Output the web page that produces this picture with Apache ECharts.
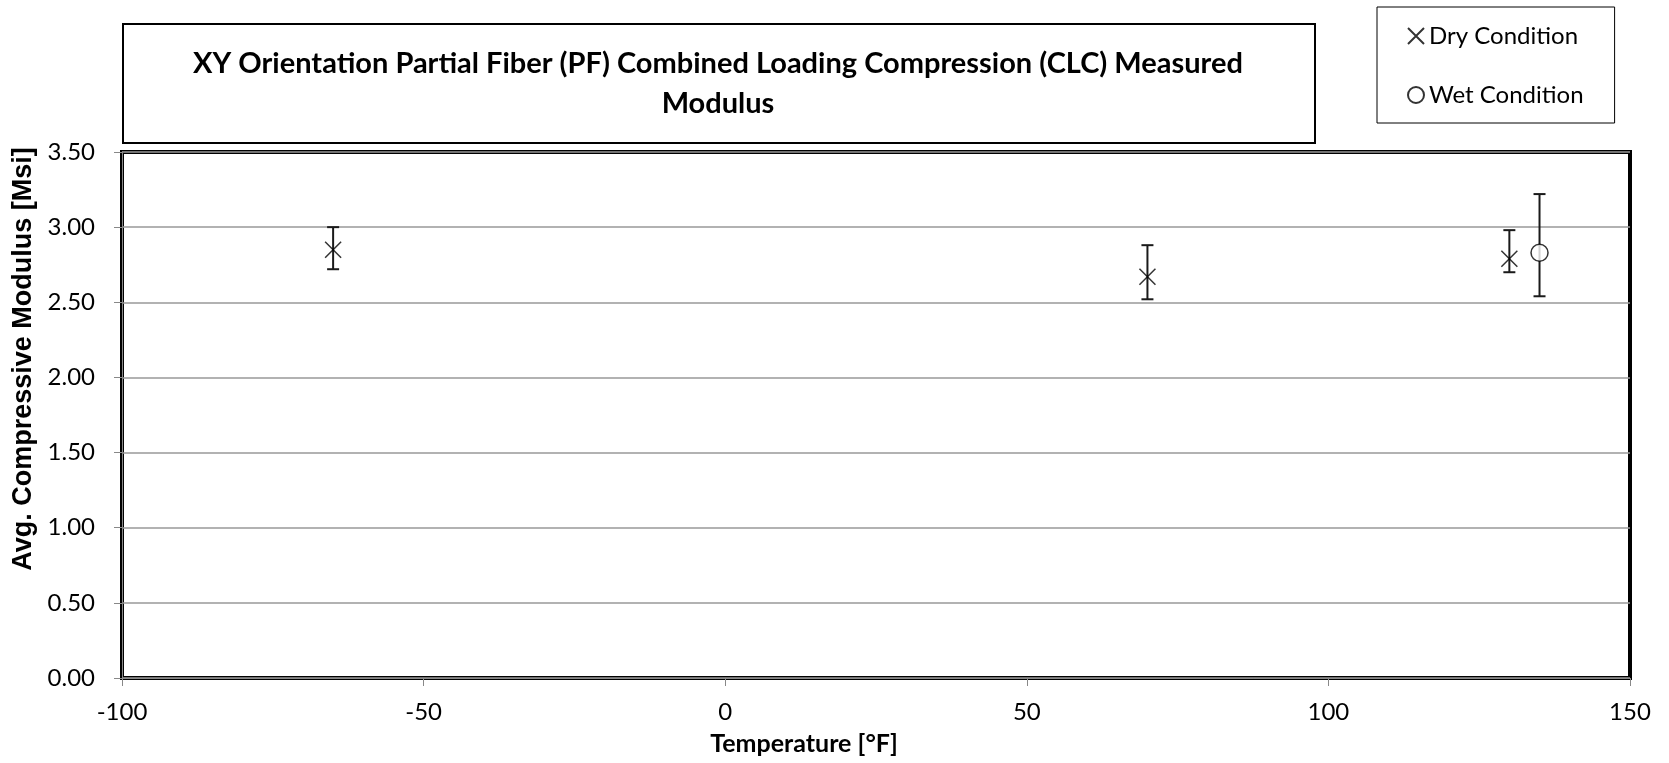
<!DOCTYPE html>
<html>
<head>
<meta charset="utf-8">
<script src="https://cdn.jsdelivr.net/npm/echarts@6/dist/echarts.min.js"></script>
<style>
  html, body { margin: 0; padding: 0; background: #fff; }
  #chart { width: 1669px; height: 763px; }
</style>
</head>
<body>
<div id="chart"></div>
<script>
// Measured compressive modulus, XY orientation, partial fiber CLC specimens
const titleLines = ['XY Orientation Partial Fiber (PF) Combined Loading Compression (CLC) Measured', 'Modulus'];
const seriesNames = ['Dry Condition', 'Wet Condition'];

// Dry condition: temperature [°F], mean modulus [Msi], error bar low / high
const dryTemp = [-65, 70, 130];
const dryMean = [2.85, 2.67, 2.79];
const dryLow = [2.72, 2.52, 2.70];
const dryHigh = [3.00, 2.88, 2.98];

// Wet condition
const wetTemp = [135];
const wetMean = [2.83];
const wetLow = [2.54];
const wetHigh = [3.22];

// Axis ticks
const xTicks = { min: -100, max: 150, step: 50 };
const yTicks = { min: 0, max: 3.5, step: 0.5 };

const FONT = 'Lato, "Open Sans", sans-serif';
const CROSS = 'path://M0,0L10,10M10,0L0,10';

function errorBarData(t, lo, hi) {
  return t.map((x, i) => [x, lo[i], hi[i]]);
}

function renderErrorBar(params, api) {
  const x = api.value(0);
  const top = api.coord([x, api.value(2)]);
  const bot = api.coord([x, api.value(1)]);
  const half = 6;
  const style = { stroke: '#1a1a1a', lineWidth: 2 };
  return {
    type: 'group',
    children: [
      { type: 'line', shape: { x1: top[0], y1: top[1], x2: bot[0], y2: bot[1] }, style },
      { type: 'line', shape: { x1: top[0] - half, y1: top[1], x2: top[0] + half, y2: top[1] }, style },
      { type: 'line', shape: { x1: bot[0] - half, y1: bot[1], x2: bot[0] + half, y2: bot[1] }, style }
    ]
  };
}

const chart = echarts.init(document.getElementById('chart'), null, { renderer: 'canvas' });

chart.setOption({
  backgroundColor: '#fff',
  animation: false,
  textStyle: { fontFamily: FONT },
  grid: {
    left: 122, right: 39, top: 152, bottom: 85,
    show: true, borderColor: '#000', borderWidth: 4, backgroundColor: '#fff',
    containLabel: false
  },
  xAxis: {
    type: 'value',
    min: xTicks.min, max: xTicks.max, interval: xTicks.step,
    axisLine: { show: true, onZero: false, lineStyle: { color: '#888', width: 1 } },
    axisTick: { show: true, length: 8, lineStyle: { color: '#888' } },
    axisLabel: { color: '#000', fontSize: 24, fontFamily: FONT, margin: 22 },
    splitLine: { show: false }
  },
  yAxis: {
    type: 'value',
    min: yTicks.min, max: yTicks.max, interval: yTicks.step,
    axisLine: { show: true, onZero: false, lineStyle: { color: '#888', width: 1 } },
    axisTick: { show: true, length: 8, lineStyle: { color: '#888' } },
    axisLabel: { color: '#000', fontSize: 24, fontFamily: FONT, margin: 27,
      formatter: v => v.toFixed(2) },
    splitLine: { show: true, lineStyle: { color: '#999', width: 1.5 } }
  },
  legend: {
    orient: 'vertical',
    left: 1377, top: 7,
    padding: [16, 31, 15, 30],
    itemGap: 33,
    itemWidth: 16, itemHeight: 16,
    borderColor: '#000', borderWidth: 1,
    backgroundColor: '#fff',
    textStyle: { color: '#000', fontSize: 24, fontFamily: FONT, lineHeight: 26 },
    data: seriesNames
  },
  graphic: [
    {
      type: 'rect', left: 122, top: 23, z: 10,
      shape: { width: 1192, height: 119 },
      style: { fill: '#fff', stroke: '#000', lineWidth: 2 }
    },
    {
      type: 'text', x: 718, y: 84, z: 11,
      style: {
        text: titleLines.join('\n'),
        font: 'bold 29px ' + FONT,
        fill: '#000', align: 'center', verticalAlign: 'middle', lineHeight: 40
      }
    },
    {
      type: 'text', x: 24, y: 359, rotation: Math.PI / 2, z: 11,
      style: {
        text: 'Avg. Compressive Modulus [Msi]',
        font: 'bold 27px "Liberation Sans", Arial, sans-serif',
        fill: '#000', align: 'center', verticalAlign: 'middle'
      }
    },
    {
      type: 'text', x: 804, y: 744, z: 11,
      style: {
        text: 'Temperature [°F]',
        font: 'bold 25px ' + FONT,
        fill: '#000', align: 'center', verticalAlign: 'middle'
      }
    }
  ],
  series: [
    {
      name: seriesNames[0] + ' error',
      type: 'custom',
      renderItem: renderErrorBar,
      data: errorBarData(dryTemp, dryLow, dryHigh),
      z: 3, silent: true
    },
    {
      name: seriesNames[1] + ' error',
      type: 'custom',
      renderItem: renderErrorBar,
      data: errorBarData(wetTemp, wetLow, wetHigh),
      z: 3, silent: true
    },
    {
      name: seriesNames[0],
      type: 'scatter',
      symbol: CROSS,
      symbolSize: 16,
      itemStyle: { color: 'rgba(0,0,0,0)', borderColor: '#000', borderWidth: 1.5 },
      data: dryTemp.map((t, i) => [t, dryMean[i]]),
      z: 5
    },
    {
      name: seriesNames[1],
      type: 'scatter',
      symbol: 'circle',
      symbolSize: 17,
      itemStyle: { color: '#fff', borderColor: '#000', borderWidth: 1.5 },
      data: wetTemp.map((t, i) => [t, wetMean[i]]),
      z: 5
    }
  ]
});
</script>
</body>
</html>
